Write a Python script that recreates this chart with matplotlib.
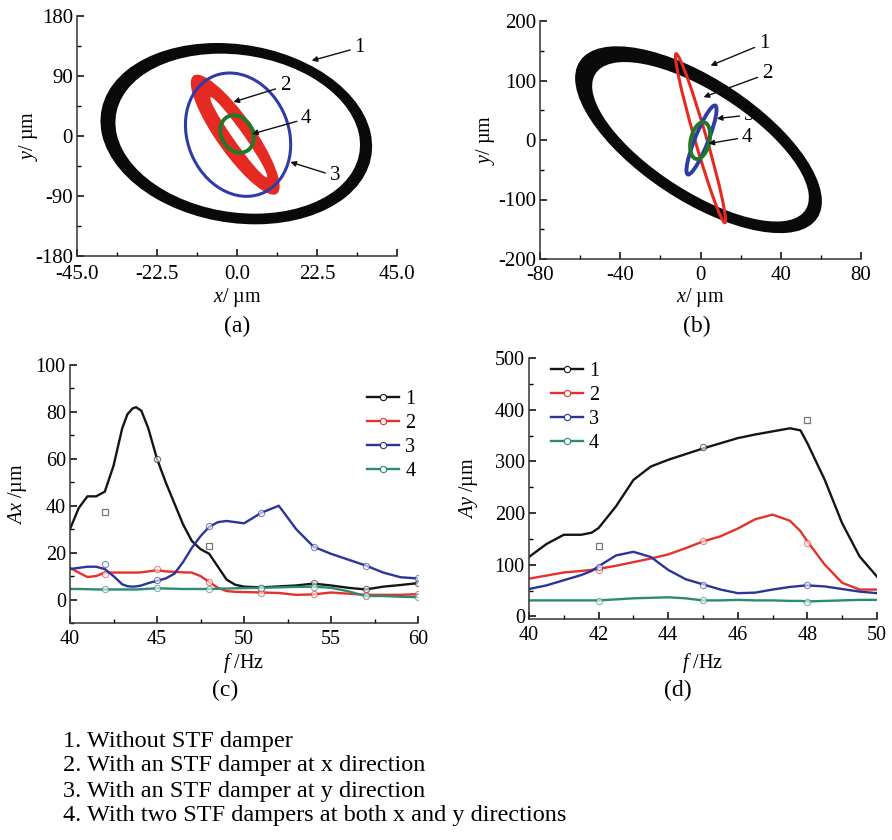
import numpy as np
import matplotlib
matplotlib.use('Agg')
import matplotlib.pyplot as plt
from matplotlib.patches import Ellipse
from matplotlib.ticker import MultipleLocator, FormatStrFormatter

plt.rcParams['font.family'] = ['Liberation Serif', 'DejaVu Serif']
plt.rcParams['mathtext.fontset'] = 'custom'
plt.rcParams['mathtext.rm'] = 'Liberation Serif'
plt.rcParams['mathtext.it'] = 'Liberation Serif:italic'
plt.rcParams['axes.unicode_minus'] = False

# orbit readings: centre x, centre y, x amplitude, y amplitude, x-y correlation
# black rings and the red band are drawn as outer (filled) and inner (white) boundaries
ring_a = [(-0.2, 3.5, 38.2, 136.0, -0.14), (0.2, 3.5, 34.4, 120.0, -0.14)]
red_a = [(-0.5, 2.0, 12.5, 90.0, -0.86), (0.5, -2.0, 8.0, 60.0, -0.975)]
blue_a = (0.3, 2.0, 14.8, 92.5, -0.16)
green_a = (0.0, 3.0, 4.7, 28.0, -0.2)

ring_b = [(-1.0, 0.5, 61.5, 157.0, -0.66), (0.0, -3.0, 54.0, 134.0, -0.70)]
red_b = (0.0, 3.0, 12.5, 142.0, -0.97)
blue_b = (0.5, 0.0, 7.5, 58.0, 0.88)
green_b = (-0.2, -1.0, 5.0, 31.0, 0.3)

# annotation label position, arrow tip
notes_a = {'1': ((33, 133), (21, 113)), '2': ((12, 75), (-1, 51)),
           '4': ((18, 26), (4.2, 3)), '3': ((26, -60), (15, -39))}
notes_b = {'1': ((29, 162), (5, 125)), '2': ((30.5, 111), (1.5, 72)),
           '3': ((21.5, 42), (8.1, 36)), '4': ((20.5, 5), (4, -6))}

# panel (c): amplitude in x direction
fc = [40, 40.5, 41, 41.5, 42, 42.5, 43, 43.3, 43.6, 43.8, 44.1, 44.5, 45, 45.5, 46, 46.5, 47,
      47.5, 48, 48.5, 49, 49.5, 50, 51, 52, 53, 54, 55, 56, 57, 58, 59, 60]
ax1 = [30, 39, 44, 44, 46, 57, 73, 79, 81.5, 82, 80.5, 73, 60, 50, 41, 32, 25,
       21.5, 19.5, 14, 8.5, 6.3, 5.5, 5.2, 5.6, 6.0, 6.8, 6.0, 5.0, 4.3, 5.5, 6.2, 7.0]
ax2 = [13.5, 11.5, 9.6, 10, 11.5, 11.5, 11.5, 11.5, 11.5, 11.5, 11.6, 12, 12.5, 12, 11.8, 11.6, 11.5,
       10, 7.5, 5, 3.6, 3.3, 3.2, 3.0, 2.8, 2.0, 2.2, 3.0, 2.5, 2.0, 2.0, 2.0, 2.3]
ax3 = [13, 13.5, 14, 14, 13, 10, 6.5, 5.7, 5.5, 5.6, 6, 7, 8, 9, 11, 16, 22,
       27, 31, 33, 33.5, 33, 32.5, 37, 40, 30, 22.5, 19.5, 17, 14.5, 11.5, 9.5, 9]
ax4 = [4.5, 4.5, 4.4, 4.3, 4.3, 4.3, 4.3, 4.3, 4.3, 4.3, 4.4, 4.6, 4.8, 4.7, 4.6, 4.5, 4.5,
       4.5, 4.5, 4.6, 4.7, 4.8, 4.9, 5.0, 5.2, 5.4, 5.5, 5.0, 3.5, 1.5, 1.5, 1.2, 1.0]
fc_mark = [42, 45, 48, 51, 54, 57, 60]
ax1_mark = [None, 60, None, 5, 7, 4.5, 7]
ax2_mark = [11, 13, 7.5, 3, 2.3, 2, 2.3]
ax3_mark = [15, 8.5, 31.5, 37, 22.5, 14.5, 9]
ax4_mark = [4.3, 4.8, 4.5, 5, 5.5, 1.5, 1.0]
fc_square = [42, 48]
ax1_square = [37.5, 23]

# panel (d): amplitude in y direction
fd = [40, 40.5, 41, 41.5, 41.8, 42, 42.5, 43, 43.5, 44, 44.5, 45, 45.5, 46, 46.5, 47, 47.5,
      47.8, 48, 48.5, 49, 49.5, 50]
ay1 = [115, 140, 158, 158, 162, 171, 213, 264, 290, 303, 314, 325, 335, 345, 352, 358, 364,
       360, 335, 264, 180, 116, 77]
ay2 = [73, 79, 85, 88, 90, 92, 98, 105, 112, 120, 132, 145, 155, 170, 188, 197, 185,
       165, 145, 100, 65, 52, 52]
ay3 = [53, 60, 70, 80, 88, 97, 118, 125, 115, 90, 72, 62, 52, 45, 46, 52, 57,
       59, 60, 58, 53, 48, 45]
ay4 = [31, 31, 31, 31, 31, 31, 33, 35, 36, 37, 35, 31, 31, 32, 31, 31, 30,
       30, 29, 30, 31, 32, 32]
fd_mark = [42, 45, 48]
ay1_mark = [None, 328, None]
ay2_mark = [90, 145, 142]
ay3_mark = [95, 61, 60]
ay4_mark = [30, 31, 28]
fd_square = [42, 48]
ay1_square = [137, 380]

legend_labels = ['1', '2', '3', '4']
line_colors = ['#151515', '#e5312b', '#2c3597', '#2b8a76']
c_black, c_red, c_blue, c_green = '#0a0a0a', '#e52a24', '#2f3ba6', '#1e7a28'

caption = ['1. Without STF damper',
           '2. With an STF damper at x direction',
           '3. With an STF damper at y direction',
           '4. With two STF dampers at both x and y directions']

W, H = 892, 840
fig = plt.figure(figsize=(W / 100, H / 100), dpi=100)


def add_axes(l, t, r, b):
    return fig.add_axes([l / W, 1 - b / H, (r - l) / W, (b - t) / H])


def style(ax, xmaj, xmin, ymaj, ymin, size, xpad=5):
    for s in ['top', 'right']:
        ax.spines[s].set_visible(False)
    for s in ['left', 'bottom']:
        ax.spines[s].set_linewidth(1.1)
        ax.spines[s].set_color('#333333')
    ax.xaxis.set_major_locator(MultipleLocator(xmaj))
    ax.xaxis.set_minor_locator(MultipleLocator(xmin))
    ax.yaxis.set_major_locator(MultipleLocator(ymaj))
    ax.yaxis.set_minor_locator(MultipleLocator(ymin))
    ax.tick_params(which='major', direction='in', length=5, width=1.1, labelsize=size)
    ax.tick_params(axis='x', which='major', pad=xpad)
    ax.tick_params(axis='y', which='major', pad=3)
    ax.tick_params(which='minor', direction='in', length=3, width=1.0)


def labels(ax, xl, yl, xy, yx):
    ax.set_xlabel(xl, fontsize=14.5)
    ax.set_ylabel(yl, fontsize=14.5)
    ax.xaxis.label.set_va('center')
    ax.yaxis.label.set_va('center')
    ax.xaxis.set_label_coords(0.5, xy)
    ax.yaxis.set_label_coords(yx, 0.5)


def orbit(ax, p, **kw):
    cx, cy, amp_x, amp_y, rho = p
    m = np.array([[amp_x ** 2, rho * amp_x * amp_y], [rho * amp_x * amp_y, amp_y ** 2]])
    vals, vecs = np.linalg.eigh(m)
    ang = np.degrees(np.arctan2(vecs[1, 1], vecs[0, 1]))
    ax.add_patch(Ellipse((cx, cy), 2 * np.sqrt(vals[1]), 2 * np.sqrt(vals[0]), angle=ang, **kw))


def annotate(ax, notes):
    for k, (txt, tip) in notes.items():
        ax.annotate(k, xy=tip, xytext=txt, fontsize=15, ha='left', va='center',
                    arrowprops=dict(arrowstyle='-|>', color='#111111', lw=1.0,
                                    mutation_scale=8, shrinkA=1, shrinkB=0))


def amp_plot(ax, f, series, f_mark, marks, f_sq, sq):
    for i in range(4):
        ax.plot(f, series[i], color=line_colors[i], lw=1.7, label=legend_labels[i],
                marker='o', markevery=[], ms=4.5, mfc='white', mec=line_colors[i], mew=0.8)
        pts = [(x, y) for x, y in zip(f_mark, marks[i]) if y is not None]
        ax.plot([p[0] for p in pts], [p[1] for p in pts], ls='none', marker='o', ms=4.5,
                mfc='white', mec=line_colors[i], mew=0.8, alpha=0.6)
    ax.plot(f_sq, sq, ls='none', marker='s', ms=5, mfc='white', mec='#777777', mew=0.9)


# (a)
axa = add_axes(77, 16, 397, 256)
orbit(axa, ring_a[0], facecolor=c_black, edgecolor='none')
orbit(axa, ring_a[1], facecolor='white', edgecolor='none')
orbit(axa, red_a[0], facecolor=c_red, edgecolor='none')
orbit(axa, red_a[1], facecolor='white', edgecolor='none')
orbit(axa, blue_a, fill=False, edgecolor=c_blue, lw=2.2)
orbit(axa, green_a, fill=False, edgecolor=c_green, lw=2.8)
axa.set_xlim(-45, 45)
axa.set_ylim(-180, 180)
style(axa, 22.5, 11.25, 90, 45, 15, xpad=6.5)
axa.xaxis.set_major_formatter(FormatStrFormatter('%.1f'))
annotate(axa, notes_a)
labels(axa, r'$x$/ µm', r'$y$/ µm', -0.171, -0.153)
fig.text(237 / W, 1 - 326 / H, '(a)', fontsize=17, ha='center', va='center')

# (b)
axb = add_axes(540, 21, 861, 259)
orbit(axb, ring_b[0], facecolor=c_black, edgecolor='none')
orbit(axb, ring_b[1], facecolor='white', edgecolor='none')
orbit(axb, red_b, fill=False, edgecolor=c_red, lw=2.2)
orbit(axb, blue_b, fill=False, edgecolor=c_blue, lw=2.8)
orbit(axb, green_b, fill=False, edgecolor=c_green, lw=2.8)
axb.set_xlim(-80, 80)
axb.set_ylim(-200, 200)
style(axb, 40, 20, 100, 50, 15)
annotate(axb, notes_b)
labels(axb, r'$x$/ µm', r'$y$/ µm', -0.16, -0.171)
fig.text(697 / W, 1 - 326 / H, '(b)', fontsize=17, ha='center', va='center')

# (c)
axc = add_axes(70, 365, 418, 623)
amp_plot(axc, fc, [ax1, ax2, ax3, ax4], fc_mark, [ax1_mark, ax2_mark, ax3_mark, ax4_mark],
         fc_square, ax1_square)
axc.set_xlim(40, 60)
axc.set_ylim(-10, 100)
style(axc, 5, 2.5, 20, 10, 14.5)
labels(axc, r'$f$ /Hz', r'$Ax$ /µm', -0.155, -0.152)
axc.legend(loc='upper right', bbox_to_anchor=(1.045, 0.975), frameon=False, fontsize=14.5,
           handlelength=1.6, handletextpad=0.3, labelspacing=0.25)
fig.text(225 / W, 1 - 690 / H, '(c)', fontsize=17, ha='center', va='center')

# (d)
axd = add_axes(529, 358, 877, 619)
amp_plot(axd, fd, [ay1, ay2, ay3, ay4], fd_mark, [ay1_mark, ay2_mark, ay3_mark, ay4_mark],
         fd_square, ay1_square)
axd.set_xlim(40, 50)
axd.set_ylim(-5, 500)
style(axd, 2, 1, 100, 50, 14.5)
labels(axd, r'$f$ /Hz', r'$Ay$ /µm', -0.169, -0.175)
axd.legend(loc='upper left', bbox_to_anchor=(0.01, 1.055), frameon=False, fontsize=14.5,
           handlelength=1.6, handletextpad=0.3, labelspacing=0.25)
fig.text(678 / W, 1 - 690 / H, '(d)', fontsize=17, ha='center', va='center')

for i, line in enumerate(caption):
    fig.text(63 / W, 1 - (741 + 25 * i) / H, line, fontsize=17.5, ha='left', va='center')

fig.savefig('out.png', dpi=100)
